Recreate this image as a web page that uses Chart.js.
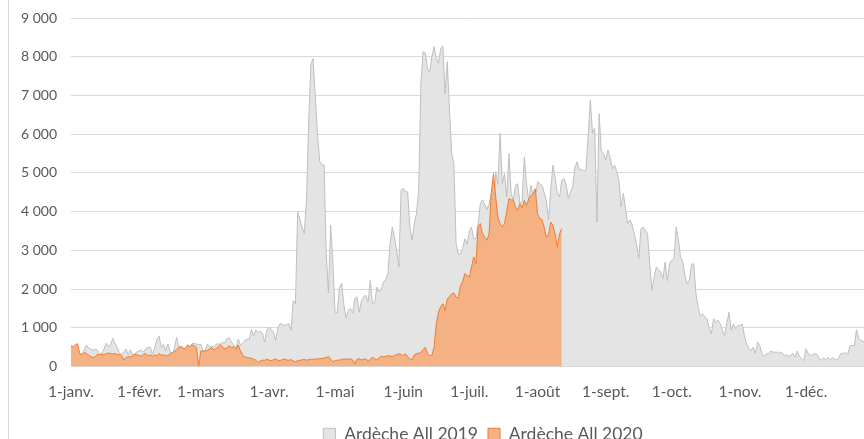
<!DOCTYPE html>
<html>
<head>
<meta charset="utf-8">
<script src="https://cdn.jsdelivr.net/npm/chart.js@4/dist/chart.umd.min.js"></script>
<style>
  body { margin: 0; overflow: hidden; background: #fff; }
</style>
</head>
<body>
<canvas id="myGraph" width="872" height="453"></canvas>
<script>
// one category per day of the year
const monthNames = ['janv.', 'févr.', 'mars', 'avr.', 'mai', 'juin', 'juil.', 'août', 'sept.', 'oct.', 'nov.', 'déc.'];
const monthLengths = [31, 28, 31, 30, 31, 30, 31, 31, 30, 31, 30, 31];
const days = [];
monthNames.forEach((m, i) => {
  for (let d = 1; d <= monthLengths[i]; d++) days.push(d + '-' + m);
});

const yTicks = [0, 1000, 2000, 3000, 4000, 5000, 6000, 7000, 8000, 9000];

// Ardèche All 2019, daily
const ardeche2019 = [
  400, 450, 380, 350, 330, 320, 430, 550, 480, 450,
  420, 450, 420, 340, 320, 450, 600, 520, 560, 730,
  600, 490, 360, 300, 380, 450, 300, 430, 290, 330,
  380, 400, 420, 380, 460, 490, 500, 320, 470, 700,
  790, 490, 580, 400, 580, 400, 230, 490, 750, 490,
  535, 490, 450, 150, 490, 595, 595, 580, 560, 580,
  400, 420, 580, 490, 535, 490, 580, 580, 580, 620,
  620, 735, 735, 620, 560, 490, 705, 560, 595, 680,
  705, 705, 965, 790, 940, 880, 920, 850, 630, 950,
  1015, 950, 890, 670, 1000, 1110, 1080, 1060, 1080, 1110,
  930, 1700, 1620, 3990, 3800, 3600, 3430, 4300, 6300, 7800,
  7950, 7000, 6000, 5300, 5220, 5200, 2900, 1900, 3650, 2700,
  1400, 1400, 2050, 2150, 1600, 1250, 1450, 1500, 1380, 1750,
  1800, 1400, 1700, 1800, 1840, 1660, 2220, 1620, 1650, 2050,
  1920, 2000, 2180, 2250, 2400, 3170, 3600, 3340, 3000, 2570,
  4550, 4600, 4510, 4510, 3600, 3260, 3690, 3950, 4550, 7310,
  8130, 8090, 7700, 7610, 8000, 8260, 7960, 7830, 8210, 8275,
  7050, 7870, 6620, 5500, 5240, 3170, 2900, 2900, 3050, 3300,
  3150, 3500, 3600, 3300, 3300, 3700, 4200, 4300, 4200, 4050,
  4200, 4450, 4000, 5030, 4700, 6020, 4720, 4980, 4380, 5500,
  4470, 4290, 4680, 4720, 4200, 4290, 5410, 4720, 4290, 4680,
  4420, 4330, 4770, 4720, 4680, 4500, 4290, 3780, 4550, 5200,
  4900, 4470, 4380, 4810, 4850, 4700, 4340, 4500, 4640, 5150,
  5280, 5070, 5090, 5050, 5070, 5930, 6880, 6020, 6150, 3730,
  6530, 5540, 5500, 5330, 5590, 5400, 5110, 5200, 5030, 4810,
  4120, 4470, 4080, 3690, 3780, 3650, 3430, 3170, 2780, 3560,
  3600, 3520, 3430, 2650, 1970, 2310, 2570, 2500, 2440, 2270,
  2700, 2220, 2650, 2740, 2780, 3600, 3300, 2830, 2700, 2350,
  2140, 2230, 2650, 2650, 1880, 1530, 1280, 1360, 1280, 1230,
  1000, 840, 1230, 1150, 1200, 1110, 930, 800, 1100, 1400,
  930, 1100, 975, 1060, 1060, 1100, 800, 590, 460, 410,
  500, 330, 630, 540, 330, 260, 330, 330, 400, 370,
  370, 370, 345, 370, 285, 300, 260, 285, 345, 240,
  400, 260, 200, 155, 460, 330, 285, 310, 330, 310,
  200, 170, 225, 170, 240, 170, 225, 200, 170, 240,
  345, 330, 370, 310, 540, 540, 540, 950, 715, 670,
  650, 600, 620, 580, 600
];

// Ardèche All 2020, daily (stops mid-August)
const ardeche2020 = [
  535, 510, 560, 590, 330, 300, 360, 335, 300, 250,
  233, 250, 320, 300, 320, 300, 335, 350, 335, 320,
  335, 300, 320, 275, 165, 233, 250, 250, 267, 320,
  300, 285, 267, 320, 335, 275, 300, 267, 300, 267,
  335, 290, 300, 285, 275, 330, 360, 390, 440, 490,
  510, 450, 470, 560, 510, 560, 535, 490, 0, 405,
  390, 400, 420, 450, 490, 420, 470, 510, 560, 500,
  450, 490, 535, 490, 510, 450, 560, 405, 300, 250,
  233, 225, 215, 190, 165, 105, 145, 165, 160, 190,
  165, 150, 175, 200, 160, 150, 180, 190, 170, 160,
  180, 140, 120, 150, 160, 170, 180, 165, 175, 190,
  180, 200, 190, 210, 200, 220, 230, 260, 190, 120,
  150, 160, 170, 175, 200, 180, 200, 190, 170, 70,
  190, 200, 170, 185, 200, 140, 190, 240, 200, 170,
  225, 260, 255, 260, 275, 270, 260, 285, 300, 330,
  310, 285, 330, 250, 200, 170, 300, 330, 340, 370,
  430, 500, 330, 285, 285, 500, 1100, 1400, 1550, 1620,
  1450, 1750, 1800, 1880, 1900, 1790, 1770, 2100, 2200, 2400,
  2350, 2310, 2570, 2830, 2650, 3600, 3690, 3430, 3340, 3260,
  3430, 4500, 4980, 4380, 3860, 3690, 3600, 3690, 4000, 4340,
  4300, 4300, 4120, 4030, 4200, 4100, 4290, 4150, 4330, 4400,
  4470, 4590, 3950, 3820, 3800, 3600, 3340, 3400, 3730, 3650,
  3430, 3090, 3430, 3560
];

const textColor = '#595959';
const gridColor = '#d9d9d9';

const graph = document.getElementById('myGraph');

// thin frame line on the left, like the Excel chart border
const frameLine = {
  id: 'frameLine',
  afterDraw(chart) {
    const ctx = chart.ctx;
    ctx.save();
    ctx.strokeStyle = gridColor;
    ctx.lineWidth = 1;
    ctx.beginPath();
    ctx.moveTo(8.5, 0);
    ctx.lineTo(8.5, chart.height);
    ctx.stroke();
    ctx.restore();
  }
};

// legend sits centred on the original (wider) chart
const legendShift = {
  id: 'legendShift',
  afterLayout(chart) {
    chart.legend.left += 47;
    chart.legend.right += 47;
  }
};

new Chart(graph, {
  type: 'line',
  data: {
    labels: days,
    datasets: [
      {
        label: 'Ardèche All 2019',
        data: ardeche2019,
        borderColor: '#bfbfbf',
        backgroundColor: '#e4e4e4',
        borderWidth: 1,
        fill: 'origin',
        pointRadius: 0,
        tension: 0,
        order: 1
      },
      {
        label: 'Ardèche All 2020',
        data: ardeche2020,
        borderColor: '#ed7d31',
        backgroundColor: '#f4b183',
        borderWidth: 1,
        fill: 'origin',
        pointRadius: 0,
        tension: 0,
        order: 0
      }
    ]
  },
  options: {
    responsive: false,
    animation: false,
    layout: { padding: { top: 18, left: 0, right: 0, bottom: 0 } },
    plugins: {
      tooltip: { enabled: false },
      legend: {
        position: 'bottom',
        labels: {
          color: textColor,
          font: { family: 'Lato', size: 17.5 },
          boxWidth: 12,
          boxHeight: 12,
          padding: 10,
          sort: (a, b) => a.datasetIndex - b.datasetIndex
        }
      }
    },
    scales: {
      x: {
        grid: { display: false },
        border: { display: true, color: gridColor },
        afterFit(scale) {
          scale.height = 49;
          scale.paddingLeft = 0;
          scale.paddingRight = 0;
        },
        ticks: {
          autoSkip: false,
          maxRotation: 0,
          padding: 8,
          color: textColor,
          font: { family: 'Lato', size: 15.5 },
          callback(value) {
            const lab = this.getLabelForValue(value);
            return lab.startsWith('1-') ? lab : '';
          }
        }
      },
      y: {
        min: 0,
        max: 9000,
        afterFit(scale) {
          scale.width = 71;
          scale.paddingTop = 0;
          scale.paddingBottom = 0;
        },
        afterBuildTicks(scale) { scale.ticks = yTicks.map(v => ({ value: v })); },
        grid: { color: gridColor, drawTicks: false },
        border: { display: false },
        ticks: {
          padding: 14,
          color: textColor,
          font: { family: 'Lato', size: 14 },
          callback: v => String(v).replace(/\B(?=(\d{3})+(?!\d))/g, ' ')
        }
      }
    }
  },
  plugins: [frameLine, legendShift]
});
</script>
</body>
</html>
